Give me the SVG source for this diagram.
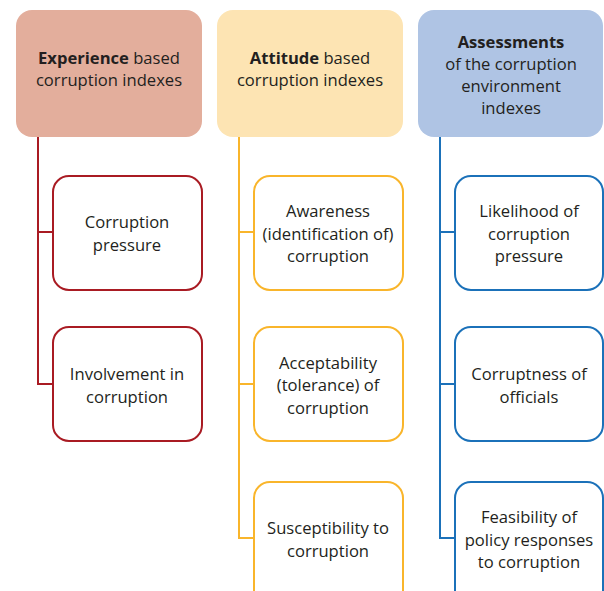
<svg xmlns="http://www.w3.org/2000/svg" width="604" height="591" viewBox="0 0 604 591">
<style>
text{font-family:"Open Sans","Noto Sans",sans-serif;font-size:16.6px;fill:#231f20;text-anchor:middle}
.b{font-weight:bold}
.red{stroke:#a91b23}
.yel{stroke:#f9b52b}
.blu{stroke:#1b71b9}
.child{fill:#fff;stroke-width:2}
.conn path{fill:none;stroke-width:2}
</style>
<rect width="604" height="591" fill="#fff"/>
<g id="connectors" class="conn">
<path class="red" d="M38,137 V384 H53 M38,232 H53"/>
<path class="yel" d="M239,137 V538 H254 M239,232 H254 M239,384 H254"/>
<path class="blu" d="M440,137 V538 H455 M440,232 H455 M440,384 H455"/>
</g>
<g id="h1"><rect x="16" y="10" width="186" height="127" rx="16" fill="#e3ae9c"/>
<text x="109" y="64"><tspan class="b">Experience</tspan> based</text><text x="109" y="86">corruption indexes</text></g>
<g id="h2"><rect x="217" y="10" width="186" height="127" rx="16" fill="#fde4b3"/>
<text x="310" y="64"><tspan class="b">Attitude</tspan> based</text><text x="310" y="86">corruption indexes</text></g>
<g id="h3"><rect x="418" y="10" width="185" height="127" rx="16" fill="#afc4e4"/>
<text x="511" y="48" class="b">Assessments</text><text x="511" y="70">of the corruption</text><text x="511" y="92">environment</text><text x="511" y="114">indexes</text></g>
<g id="c1a"><rect class="child red" x="53" y="176" width="149" height="114" rx="16"/>
<text x="127" y="228">Corruption</text><text x="127" y="251">pressure</text></g>
<g id="c1b"><rect class="child red" x="53" y="327" width="149" height="114" rx="16"/>
<text x="127" y="380">Involvement in</text><text x="127" y="403">corruption</text></g>
<g id="c2a"><rect class="child yel" x="254" y="176" width="149" height="114" rx="16"/>
<text x="328" y="217">Awareness</text><text x="328" y="240">(identification of)</text><text x="328" y="262">corruption</text></g>
<g id="c2b"><rect class="child yel" x="254" y="327" width="149" height="114" rx="16"/>
<text x="328" y="369">Acceptability</text><text x="328" y="391">(tolerance) of</text><text x="328" y="414">corruption</text></g>
<g id="c2c"><rect class="child yel" x="254" y="482" width="149" height="130" rx="16"/>
<text x="328" y="534">Susceptibility to</text><text x="328" y="557">corruption</text></g>
<g id="c3a"><rect class="child blu" x="455" y="176" width="148" height="114" rx="16"/>
<text x="529" y="217">Likelihood of</text><text x="529" y="240">corruption</text><text x="529" y="262">pressure</text></g>
<g id="c3b"><rect class="child blu" x="455" y="327" width="148" height="114" rx="16"/>
<text x="529" y="380">Corruptness of</text><text x="529" y="403">officials</text></g>
<g id="c3c"><rect class="child blu" x="455" y="482" width="148" height="130" rx="16"/>
<text x="529" y="523">Feasibility of</text><text x="529" y="546">policy responses</text><text x="529" y="568">to corruption</text></g>
</svg>
